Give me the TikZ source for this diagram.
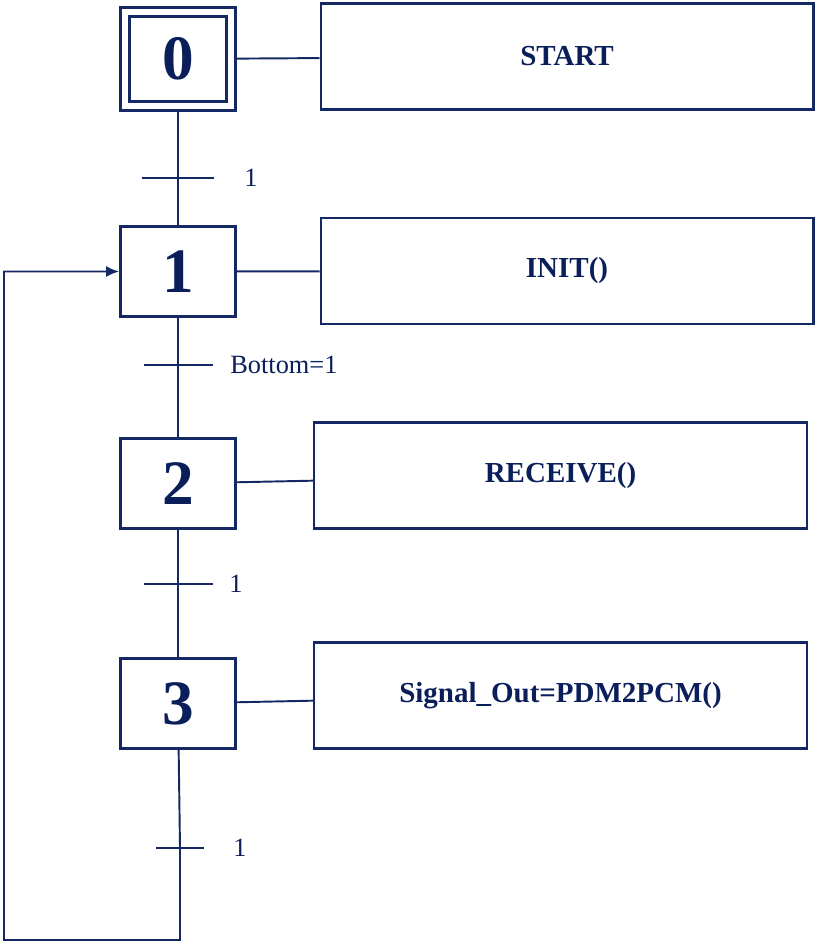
\documentclass[tikz,border=0pt]{standalone}
\usepackage{fontspec}
\setmainfont{Liberation Serif}
\usetikzlibrary{arrows.meta,positioning}
\definecolor{navy}{RGB}{20,40,100}
\definecolor{ink}{RGB}{10,30,90}

\begin{document}
\begin{tikzpicture}[
x=0.02cm, y=-0.02cm,
every node/.style={text=ink},
stepbox/.style={draw=navy, line width=1.6pt, minimum width=2.3cm, minimum height=1.8cm, font=\fontsize{36}{36}\selectfont\bfseries},
initbox/.style={stepbox, double, double distance=0.12cm, minimum width=2.13cm, minimum height=1.87cm, outer sep=3.3pt},
actbox/.style={draw=navy, line width=1.2pt, minimum width=9.86cm, minimum height=2.12cm, font=\fontsize{16.5}{18}\selectfont\bfseries},
link/.style={draw=navy, line width=1.1pt},
bar/.style={draw=navy, line width=0.9pt},
cond/.style={font=\fontsize{15}{17}\selectfont, anchor=west, inner sep=0pt},
arrow/.style={link, -{Latex[length=2.6mm, width=2.2mm]}}
]
\useasboundingbox (0,0) rectangle (817,945);

% steps
\node[initbox] (s0) at (178,59) {0};
\node[stepbox] (s1) at (178,271.5) {1};
\node[stepbox] (s2) at (178,483.5) {2};
\node[stepbox] (s3) at (178,703.5) {3};

% actions
\node[actbox] (a0) at (567,56.5) {START};
\node[actbox] (a1) at (567,271) {INIT()};
\node[actbox] (a2) at (560.5,475.5) {RECEIVE()};
\node[actbox] (a3) at (560.5,695.5) {Signal\_Out=PDM2PCM()};

% transitions
\coordinate (t1) at (178,178);
\coordinate (t2) at (178,365);
\coordinate (t3) at (178,584);
\coordinate (t4) at (180,848);
\coordinate (rb) at (180,940);
\coordinate (lb) at (4,940);

\node[cond, right=1.32cm of t1] (c1) {1};
\node[cond, right=1.04cm of t2] (c2) {Bottom=1};
\node[cond, right=1.02cm of t3] (c3) {1};
\node[cond, right=1.06cm of t4] (c4) {1};

\draw[link] (s0) -- (s1);
\draw[link] (s1) -- (s2);
\draw[link] (s2) -- (s3);
\draw[arrow] (s3) -- (t4) -- (rb) -- (lb) |- (s1);

\draw[bar] ([xshift=-0.72cm]t1) -- ([xshift=0.72cm]t1);
\draw[bar] ([xshift=-0.69cm]t2) -- ([xshift=0.7cm]t2);
\draw[bar] ([xshift=-0.69cm]t3) -- ([xshift=0.7cm]t3);
\draw[bar] ([xshift=-0.48cm]t4) -- ([xshift=0.48cm]t4);

\draw[link] (s0) -- (a0);
\draw[link] (s1) -- (a1);
\draw[link] (s2) -- (a2);
\draw[link] (s3) -- (a3);
\end{tikzpicture}
\end{document}
